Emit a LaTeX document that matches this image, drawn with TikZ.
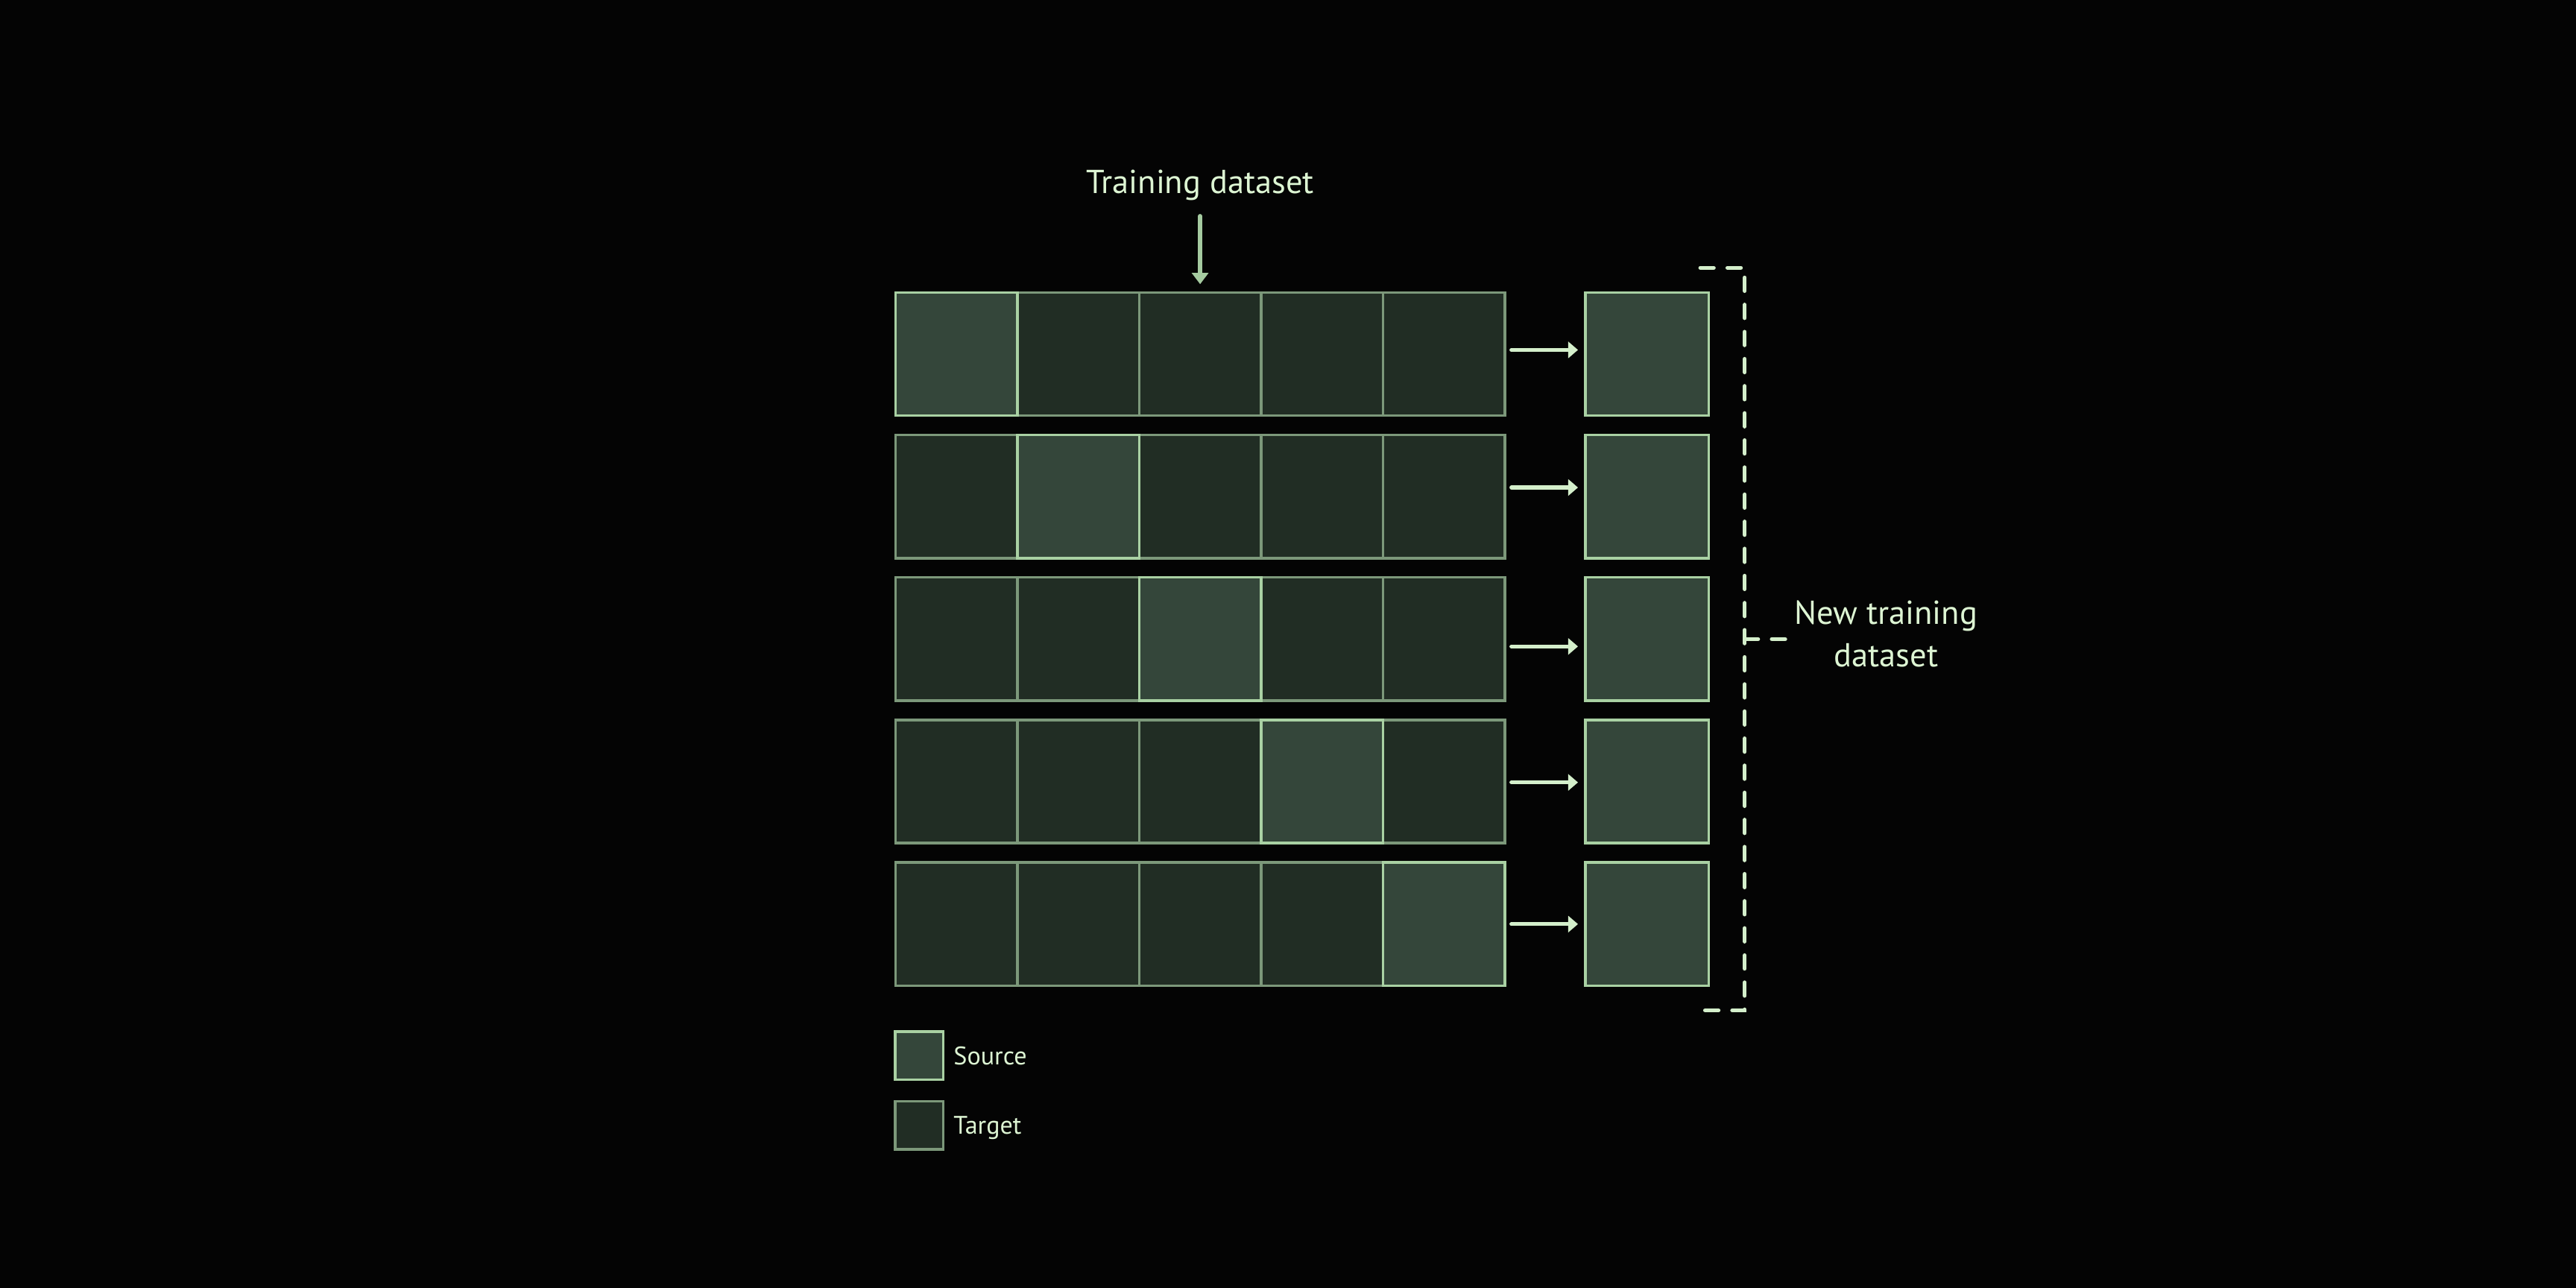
\documentclass[tikz,border=0pt]{standalone}
\usepackage{fontspec}
\setmainfont{PT Sans}
\usepackage{tikz}
\usetikzlibrary{arrows.meta,positioning}

\definecolor{bg}{HTML}{040404}
\definecolor{sfill}{HTML}{34463A}
\definecolor{tfill}{HTML}{212D24}
\definecolor{sline}{HTML}{A9D1A3}
\definecolor{tline}{HTML}{7C987A}
\definecolor{txt}{HTML}{DDF5D3}
\definecolor{arr}{HTML}{D4EFCB}
\definecolor{dim}{HTML}{A5CBA0}

\begin{document}
\begin{tikzpicture}
[tc/.style={rectangle,draw=tline,fill=tfill,line width=0.9pt,minimum width=1.484cm,minimum height=1.5cm,inner sep=0pt,outer sep=0pt}
,sc/.style={tc,draw=sline,fill=sfill}
,ob/.style={sc,minimum width=1.5cm}
,ls/.style={sc,minimum size=0.585cm}
,lt/.style={tc,minimum size=0.585cm}
,fl/.style={draw=arr,line width=1.4pt,line cap=round,shorten <=0.08cm,shorten >=0.09cm,arrows={-Triangle[length=3.4pt,width=5.6pt]}}
,ta/.style={draw=dim,line width=1.4pt,line cap=round,shorten <=0.27cm,shorten >=0.1cm,arrows={-Triangle[length=3.9pt,width=5.6pt]}}
,br/.style={draw=arr,line width=1.4pt,line cap=round,dash pattern=on 0.162cm off 0.168cm}
,tt/.style={text=txt,font=\fontsize{11.5}{14.8}\selectfont,inner sep=0pt}
,lab/.style={text=txt,font=\fontsize{8.8}{10}\selectfont,inner sep=0pt,text height=6.2pt,text depth=0pt}]
\useasboundingbox[fill=bg] (0,0) rectangle (31.36,15.68);
% rows of the training set
\node[tc] (c12) at (13.126,11.37) {};
\node[tc] (c13) at (14.61,11.37) {};
\node[tc] (c14) at (16.094,11.37) {};
\node[tc] (c15) at (17.578,11.37) {};
\node[sc] (c11) at (11.642,11.37) {};
\node[tc] (c21) at (11.642,9.635) {};
\node[tc] (c23) at (14.61,9.635) {};
\node[tc] (c24) at (16.094,9.635) {};
\node[tc] (c25) at (17.578,9.635) {};
\node[sc] (c22) at (13.126,9.635) {};
\node[tc] (c31) at (11.642,7.90) {};
\node[tc] (c32) at (13.126,7.90) {};
\node[tc] (c34) at (16.094,7.90) {};
\node[tc] (c35) at (17.578,7.90) {};
\node[sc] (c33) at (14.61,7.90) {};
\node[tc] (c41) at (11.642,6.165) {};
\node[tc] (c42) at (13.126,6.165) {};
\node[tc] (c43) at (14.61,6.165) {};
\node[tc] (c45) at (17.578,6.165) {};
\node[sc] (c44) at (16.094,6.165) {};
\node[tc] (c51) at (11.642,4.43) {};
\node[tc] (c52) at (13.126,4.43) {};
\node[tc] (c53) at (14.61,4.43) {};
\node[tc] (c54) at (16.094,4.43) {};
\node[sc] (c55) at (17.578,4.43) {};
% picked sources
\node[ob] (o1) at (20.05,11.37) {};
\node[ob] (o2) at (20.05,9.635) {};
\node[ob] (o3) at (20.05,7.90) {};
\node[ob] (o4) at (20.05,6.165) {};
\node[ob] (o5) at (20.05,4.43) {};
\draw[fl] ([yshift=0.05cm]c15.east) -- ([yshift=0.05cm]o1.west);
\draw[fl] ([yshift=0.11cm]c25.east) -- ([yshift=0.11cm]o2.west);
\draw[fl] ([yshift=-0.09cm]c35.east) -- ([yshift=-0.09cm]o3.west);
\draw[fl] ([yshift=-0.01cm]c45.east) -- ([yshift=-0.01cm]o4.west);
\draw[fl] (c55.east) -- (o5.west);
\node[tt,text height=8.1pt,text depth=0pt,above=1.2cm of c13] (t) {Training dataset};
\draw[ta] (t.south) -- (c13.north);
% bracket
\coordinate (bt) at (20.70,12.42);
\coordinate (bn) at (21.24,12.42);
\coordinate (bs) at (21.24,3.38);
\coordinate (bb) at (20.70,3.38);
\coordinate (bm) at (21.24,7.90);
\coordinate (bx) at (21.76,7.90);
\draw[br] (bt) -- (bn) -- (bs) -- (bb);
\draw[br] (bm) -- (bx);
\node[tt,align=center] (nt) at (22.96,7.966) {New training\\dataset};
% legend
\node[ls] (l1) at (11.19,2.83) {};
\node[lt] (l2) at (11.19,1.98) {};
\node[lab,right=0.12cm of l1] (s) {Source};
\node[lab,right=0.12cm of l2] (g) {Target};
\end{tikzpicture}
\end{document}
